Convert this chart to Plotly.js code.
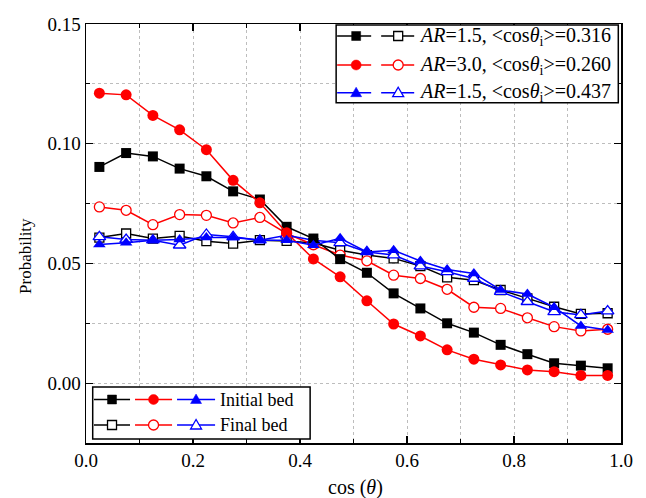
<!DOCTYPE html>
<html><head><meta charset="utf-8">
<script src="https://cdn.plot.ly/plotly-3.0.1.min.js"></script>
<style>html,body{margin:0;padding:0;background:#fff}#chart{width:646px;height:498px}</style>
</head><body><div id="chart"></div>
<script>
const cosTheta = [0.025,0.075,0.125,0.175,0.225,0.275,0.325,0.375,0.425,0.475,0.525,0.575,0.625,0.675,0.725,0.775,0.825,0.875,0.925,0.975];
// AR=1.5, <cos>=0.316 (black)
const blackInitial = [0.0903,0.0961,0.0947,0.0896,0.0864,0.0801,0.0767,0.0653,0.0604,0.0518,0.0461,0.0375,0.0312,0.0250,0.0211,0.0160,0.0121,0.0083,0.0073,0.0062];
const blackFinal   = [0.0608,0.0625,0.0604,0.0615,0.0593,0.0583,0.0597,0.0594,0.0585,0.0555,0.0535,0.0521,0.0489,0.0442,0.0430,0.0389,0.0354,0.0319,0.0289,0.0292];
// AR=3.0, <cos>=0.260 (red)
const redInitial   = [0.1211,0.1204,0.1118,0.1058,0.0975,0.0847,0.0753,0.0628,0.0519,0.0444,0.0344,0.0247,0.0197,0.0139,0.0100,0.0076,0.0055,0.0048,0.0032,0.0032];
const redFinal     = [0.0736,0.0722,0.0662,0.0704,0.0701,0.0669,0.0692,0.0625,0.0578,0.0535,0.0511,0.0451,0.0437,0.0392,0.0317,0.0312,0.0273,0.0236,0.0218,0.0225];
// AR=1.5, <cos>=0.437 (blue)
const blueInitial  = [0.0579,0.0586,0.0597,0.0600,0.0608,0.0608,0.0597,0.0597,0.0576,0.0605,0.0548,0.0555,0.0510,0.0475,0.0458,0.0389,0.0372,0.0317,0.0239,0.0222];
const blueFinal    = [0.0611,0.0600,0.0597,0.0576,0.0621,0.0611,0.0597,0.0618,0.0597,0.0586,0.0548,0.0535,0.0489,0.0465,0.0437,0.0382,0.0340,0.0298,0.0285,0.0301];

const seriesLabels = ['<i>AR</i>=1.5, &lt;cos<i>θ</i><sub>i</sub>&gt;=0.316','<i>AR</i>=3.0, &lt;cos<i>θ</i><sub>i</sub>&gt;=0.260','<i>AR</i>=1.5, &lt;cos<i>θ</i><sub>i</sub>&gt;=0.437'];
const bedLabels = ['Initial bed','Final bed'];
const xTickVals = [0,0.2,0.4,0.6,0.8,1.0];
const xTickText = ['0.0','0.2','0.4','0.6','0.8','1.0'];
const yTickVals = [0,0.05,0.10,0.15];
const yTickText = ['0.00','0.05','0.10','0.15'];

const BLACK='#000000', RED='#ff0000', BLUE='#0000ff';
const FONT='Liberation Serif';

function tr(y, color, symbol, size, open){
  return {x: cosTheta, y: y, type:'scatter', mode:'lines+markers', showlegend:false,
    line:{color:color, width:1.5},
    marker:{symbol:symbol, size:size, color: open ? '#ffffff' : color, line:{color:color, width: open?1.3:0}}};
}
const data = [
  tr(blackFinal, BLACK,'square',9,true),
  tr(redFinal, RED,'circle',10,true),
  tr(blueFinal, BLUE,'triangle-up',11,true),
  tr(blackInitial, BLACK,'square',10,false),
  tr(redInitial, RED,'circle',11,false),
  tr(blueInitial, BLUE,'triangle-up',11,false)
];

// plot area in pixels
const L=86, R=620.7, T=24, B=443;
const W=646, H=498;
const px = v => (v-L)/(R-L);
const py = v => (B-v)/(B-T);

const shapes = [];
const annotations = [];
function seg(x0,x1,y,color){
  shapes.push({type:'line', xref:'paper', yref:'paper', x0:px(x0), x1:px(x1), y0:py(y), y1:py(y), line:{color:color,width:1.5}});
}
function mark(x,y,sym,color,open){
  const fill = open ? '#ffffff' : color;
  const lw = open ? 1.3 : 0.5;
  if(sym==='square'){
    shapes.push({type:'rect', xref:'paper', yref:'paper', xsizemode:'pixel', ysizemode:'pixel', xanchor:px(x), yanchor:py(y), x0:-4.5,x1:4.5,y0:-4.5,y1:4.5, fillcolor:fill, line:{color:color,width:lw}});
  } else if(sym==='circle'){
    shapes.push({type:'circle', xref:'paper', yref:'paper', xsizemode:'pixel', ysizemode:'pixel', xanchor:px(x), yanchor:py(y), x0:-5,x1:5,y0:-5,y1:5, fillcolor:fill, line:{color:color,width:lw}});
  } else {
    shapes.push({type:'path', xref:'paper', yref:'paper', xsizemode:'pixel', ysizemode:'pixel', xanchor:px(x), yanchor:py(y), path:'M -5.5 -4 L 5.5 -4 L 0 5.5 Z', fillcolor:fill, line:{color:color,width:lw}});
  }
}
// top-right legend box
shapes.push({type:'rect', xref:'paper', yref:'paper', x0:px(336), x1:px(618), y0:py(25), y1:py(102.7), line:{color:'#000',width:1.5}, fillcolor:'#ffffff', layer:'above'});
const topRows = [36, 65, 92.7];
const cols = [BLACK, RED, BLUE];
const syms = ['square','circle','triangle'];
for(let i=0;i<3;i++){
  const y=topRows[i];
  seg(337,371,y,cols[i]); mark(356,y,syms[i],cols[i],false);
  seg(381,414,y,cols[i]); mark(398,y,syms[i],cols[i],true);
  annotations.push({xref:'paper', yref:'paper', x:px(417), y:py(y), xanchor:'left', yanchor:'middle', showarrow:false, text:seriesLabels[i], font:{family:FONT,size:20,color:'#000'}});
}
// bottom-left legend box
shapes.push({type:'rect', xref:'paper', yref:'paper', x0:px(92.7), x1:px(310), y0:py(387), y1:py(439), line:{color:'#000',width:1.5}, fillcolor:'#ffffff', layer:'above'});
const botRows = [399.5, 425];
const segX = [[94,130],[135,172],[177,215]];
for(let r=0;r<2;r++){
  for(let i=0;i<3;i++){
    seg(segX[i][0],segX[i][1],botRows[r],cols[i]);
    mark((segX[i][0]+segX[i][1])/2,botRows[r],syms[i],cols[i],r===1);
  }
  annotations.push({xref:'paper', yref:'paper', x:px(218), y:py(botRows[r]), xanchor:'left', yanchor:'middle', showarrow:false, text:bedLabels[r], font:{family:FONT,size:18,color:'#000'}});
}
// axis titles
annotations.push({xref:'paper', yref:'paper', x:px(26), y:py(256), xanchor:'center', yanchor:'middle', textangle:-90, showarrow:false, text:'Probability', font:{family:FONT,size:17,color:'#000'}});
annotations.push({xref:'paper', yref:'paper', x:px(355), y:py(487), xanchor:'center', yanchor:'middle', showarrow:false, text:'cos (<i>θ</i>)', font:{family:FONT,size:20,color:'#000'}});

const gridC = '#bdbdbd';
const layout = {
  width:W, height:H,
  margin:{l:L, r:W-R, t:T, b:H-B, pad:0},
  paper_bgcolor:'#ffffff', plot_bgcolor:'#ffffff',
  font:{family:FONT, size:19, color:'#000'},
  showlegend:false,
  xaxis:{range:[0,1], tickvals:xTickVals, ticktext:xTickText, ticks:'inside', ticklen:7, tickwidth:1.2, tickcolor:'#000',
    showline:true, linecolor:'#000', linewidth:1.5, mirror:'ticks', zeroline:false,
    showgrid:true, gridcolor:gridC, griddash:'dot', gridwidth:1,
    minor:{dtick:0.1, ticks:'inside', ticklen:4, tickcolor:'#000', showgrid:true, gridcolor:gridC, griddash:'dot', gridwidth:1},
    tickfont:{family:FONT,size:19,color:'#000'}, fixedrange:true},
  yaxis:{range:[-0.025,0.15], tickvals:yTickVals, ticktext:yTickText, ticks:'inside', ticklen:7, tickwidth:1.2, tickcolor:'#000',
    showline:true, linecolor:'#000', linewidth:1.5, mirror:'ticks', zeroline:false,
    showgrid:true, gridcolor:gridC, griddash:'dot', gridwidth:1,
    minor:{dtick:0.025, ticks:'inside', ticklen:4, tickcolor:'#000', showgrid:true, gridcolor:gridC, griddash:'dot', gridwidth:1},
    tickfont:{family:FONT,size:19,color:'#000'}, fixedrange:true},
  shapes:shapes,
  annotations:annotations
};
Plotly.newPlot('chart', data, layout, {staticPlot:true, displayModeBar:false});
</script>
</body></html>
